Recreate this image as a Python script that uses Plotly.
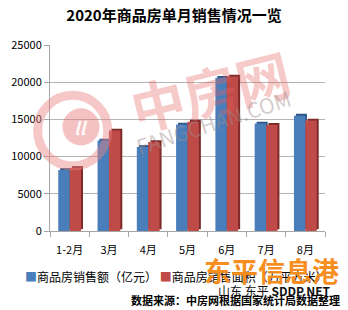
import plotly.graph_objects as go

categories = ["1-2月", "3月", "4月", "5月", "6月", "7月", "8月"]
sales_value = [8203, 12162, 11300, 14300, 20600, 14450, 15500]   # 商品房销售额（亿元）
sales_area = [8475, 13503, 11950, 14700, 20750, 14250, 14850]    # 商品房销售面积（万平方米）
y_ticks = [0, 5000, 10000, 15000, 20000, 25000]
y_ticktext = [str(v) for v in y_ticks]

name_a = "商品房销售额（亿元）"
name_b = "商品房销售面积（万平方米）"

FONT = "Noto Sans CJK SC"
BLUE, BLUE_D = "#4A7EBB", "#2E5689"
RED, RED_D = "#BE4B48", "#7D2A28"

fig = go.Figure()
lift = 250
# side/depth faces (drawn first, behind)
fig.add_trace(go.Bar(x=categories, y=sales_value, base=lift, offset=-0.24, width=0.28,
                     marker=dict(color=BLUE_D, line=dict(width=0)), showlegend=False, hoverinfo="skip"))
fig.add_trace(go.Bar(x=categories, y=sales_area, base=lift, offset=0.06, width=0.28,
                     marker=dict(color=RED_D, line=dict(width=0)), showlegend=False, hoverinfo="skip"))
# front faces
fig.add_trace(go.Bar(x=categories, y=sales_value, offset=-0.29, width=0.29, name=name_a,
                     marker=dict(color=BLUE, line=dict(width=0)), showlegend=False))
fig.add_trace(go.Bar(x=categories, y=sales_area, offset=0.0, width=0.29, name=name_b,
                     marker=dict(color=RED, line=dict(width=0)), showlegend=False))

fig.update_layout(
    width=348, height=310,
    margin=dict(l=50, r=23, t=45, b=79),
    barmode="overlay",
    paper_bgcolor="white", plot_bgcolor="white",
    font=dict(family=FONT, size=11, color="#000000"),
    title=dict(text="<b>2020年商品房单月销售情况一览</b>", x=0.5, xanchor="center",
               y=1 - 16 / 310, yanchor="middle", font=dict(size=15, family=FONT, color="#000")),
    showlegend=False,
    xaxis=dict(type="category", showline=True, linecolor="#A6A6A6", linewidth=1,
               ticks="outside", tickson="boundaries", ticklen=5, tickcolor="#A6A6A6",
               tickfont=dict(size=11), showgrid=False, ticklabelstandoff=9),
    yaxis=dict(range=[0, 25000], tickvals=y_ticks, ticktext=y_ticktext, showline=True,
               linecolor="#A6A6A6", linewidth=1, ticks="outside", ticklen=5, tickcolor="#A6A6A6",
               gridcolor="#B4B4B4", gridwidth=1, tickfont=dict(size=11), zeroline=False),
)

# watermark-ish decorations
fig.add_shape(type="circle", xref="paper", yref="paper", x0=-0.045, x1=0.21, y0=0.35, y1=0.73,
              line=dict(color="rgba(232,130,130,0.45)", width=9), layer="above")
fig.add_shape(type="circle", xref="paper", yref="paper", x0=0.045, x1=0.18, y0=0.46, y1=0.66,
              fillcolor="rgba(230,120,120,0.45)", line=dict(width=0), layer="above")
fig.add_annotation(text="<b><i>ll</i></b>", xref="paper", yref="paper", x=0.112, y=0.56,
                   xanchor="center", yanchor="middle", showarrow=False,
                   font=dict(size=18, color="rgba(255,255,255,0.9)", family=FONT))
fig.add_annotation(text="<b>中房网</b>", xref="paper", yref="paper", x=0.58, y=0.76,
                   xanchor="center", yanchor="middle", showarrow=False, textangle=-14,
                   font=dict(size=54, color="rgba(230,95,95,0.33)", family=FONT))
fig.add_annotation(text="FANGCHAN.COM", xref="paper", yref="paper", x=0.593, y=0.586,
                   xanchor="center", yanchor="middle", showarrow=False, textangle=-18,
                   font=dict(size=21, color="rgba(160,140,140,0.45)", family=FONT))

# legend row (runs off the right edge like the reference)
legend_text = (f'<span style="color:{BLUE}">■</span>{name_a} '
               f'<span style="color:{RED}">■</span>{name_b}')
fig.add_annotation(text=legend_text, xref="paper", yref="paper", x=-0.1, xanchor="left",
                   y=-0.247, yanchor="middle", showarrow=False,
                   font=dict(size=12, color="#000", family=FONT))

fig.add_annotation(text="<b>东平信息港</b>", xref="paper", yref="paper", x=0.807, y=-0.215,
                   xanchor="center", yanchor="middle", showarrow=False,
                   font=dict(size=27, color="rgba(247,140,25,0.97)", family=FONT))
fig.add_annotation(text="山东 东平 <b>SDDP.NET</b>", xref="paper", yref="paper", x=0.818, y=-0.32,
                   xanchor="center", yanchor="middle", showarrow=False,
                   font=dict(size=12, color="#111", family=FONT))
fig.add_annotation(text="<b>数据来源：中房网根据国家统计局数据整理</b>", xref="paper", yref="paper",
                   x=1.062, xanchor="right", y=-0.372, yanchor="middle", showarrow=False,
                   font=dict(size=11, color="#000", family=FONT))

fig.write_html("out.html")
